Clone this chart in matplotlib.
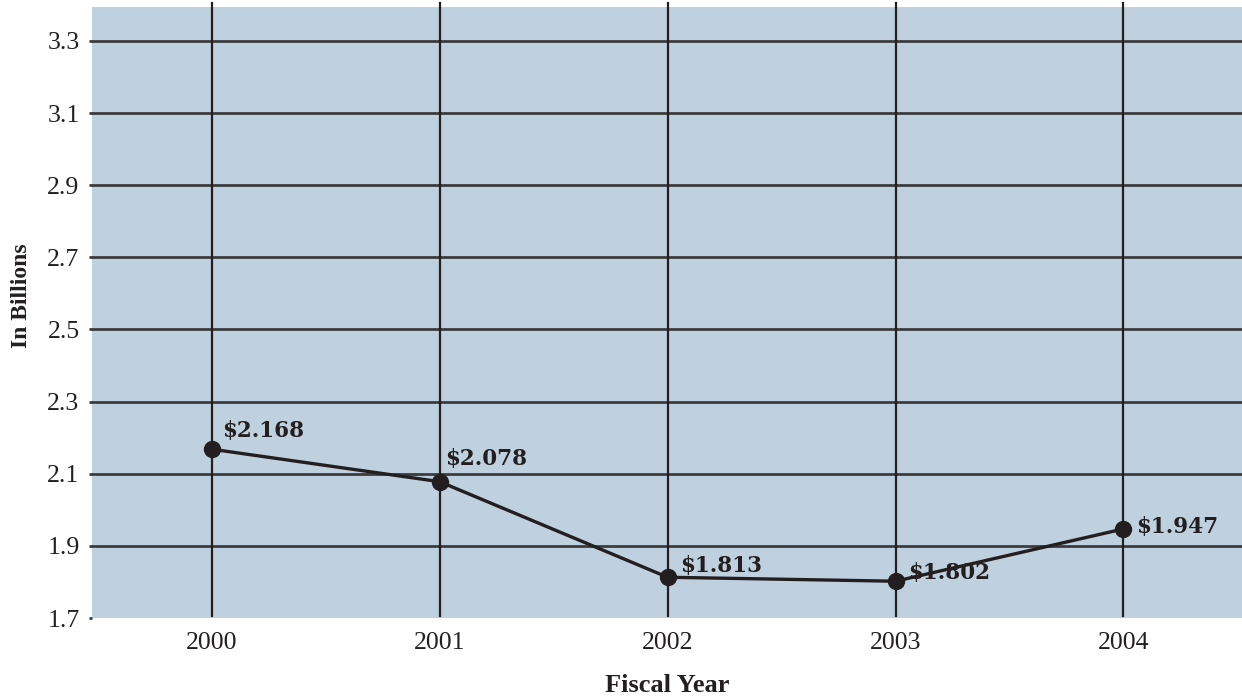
import matplotlib
matplotlib.use("Agg")
import matplotlib.pyplot as plt

# Annual totals, in billions of dollars
years = ["2000", "2001", "2002", "2003", "2004"]
values = [2.168, 2.078, 1.813, 1.802, 1.947]
labels = ["$2.168", "$2.078", "$1.813", "$1.802", "$1.947"]
y_ticks = [1.7, 1.9, 2.1, 2.3, 2.5, 2.7, 2.9, 3.1, 3.3]

# Label placement relative to each point, in pixels
label_offsets = [(10, 12), (5, 17), (13, 5), (13, 2), (13, -4)]

plt.rcParams["font.family"] = ["Liberation Serif", "DejaVu Serif"]

fig = plt.figure(figsize=(12.42, 6.98), dpi=100)
ax = fig.add_axes([0.0741, 0.1146, 0.9259, 0.8754])

bg = "#bfd0de"
grid_col = "#3c3c3e"
ink = "#231f20"

ax.set_facecolor(bg)
for s in ax.spines.values():
    s.set_visible(False)

xs = list(range(len(years)))
ax.set_xlim(-0.525, 4.52)
ax.set_ylim(1.7, 3.394)

ax.set_yticks(y_ticks)
ax.set_yticklabels([f"{t:.1f}" for t in y_ticks])
ax.set_xticks(xs)
ax.set_xticklabels(years)

# Horizontal grid lines
for t in y_ticks[1:]:
    ax.axhline(t, color=grid_col, lw=2.0, zorder=1)

# Vertical grid lines, running slightly past the top edge
for x in xs:
    ax.axvline(x, ymin=0.004, ymax=1.007, color=ink, lw=1.6, zorder=1, clip_on=False)

ax.tick_params(axis="y", length=2, width=2.0, color=grid_col, pad=7,
               labelsize=18.5, labelcolor=ink)
ax.tick_params(axis="x", length=0, pad=10, labelsize=18.5, labelcolor=ink)

ax.plot(xs, values, color=ink, lw=2.4, marker="o", markersize=11.5,
        markerfacecolor=ink, markeredgecolor=ink, zorder=3)

for x, v, lab, off in zip(xs, values, labels, label_offsets):
    ax.annotate(lab, (x, v), xytext=off, textcoords="offset pixels",
                ha="left", va="baseline", fontsize=15.5, fontweight="bold",
                family="DejaVu Serif", color=ink, zorder=4)

fig.text(0.017, 0.577, "In Billions", rotation=90, ha="center", va="center",
         fontsize=17, fontweight="bold", color=ink)
fig.text(0.5375, 0.009, "Fiscal Year", ha="center", va="baseline",
         fontsize=19, fontweight="bold", color=ink)

fig.savefig("out.png", dpi=100)
